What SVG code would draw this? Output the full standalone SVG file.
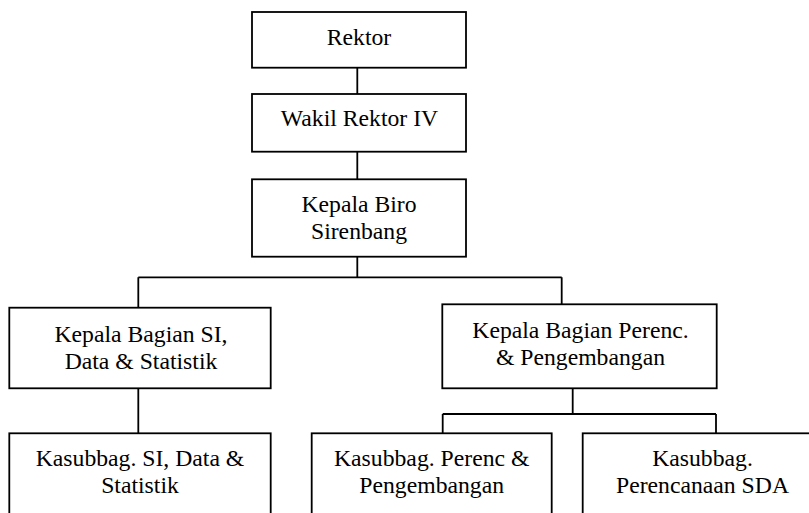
<svg xmlns="http://www.w3.org/2000/svg" width="809" height="513" viewBox="0 0 809 513">
<style>
.box{fill:#fff;stroke:#000;stroke-width:1.8}
.t{font-family:'Liberation Serif','Times New Roman',Times,Tinos,'Nimbus Roman','Nimbus Roman No9 L','DejaVu Serif','Noto Serif',FreeSerif,serif;font-size:23.7px;fill:#000;text-anchor:middle}
.c{stroke:#000;stroke-width:1.8;fill:none}
</style>
<rect width="809" height="513" fill="#fff"/>
<g id="connectors">
<path class="c" d="M357.3,67.7V94M357.3,151.7V179.3M357.3,256.7V277.3M138.3,277.3H561.7M138.3,277.3V307.7M561.7,277.3V304.3M138.3,388.3V433.3M572.7,388.3V414M442.7,414H716M442.7,414V433.3M716,414V433.3"/>
</g>
<g id="rektor"><rect class="box" x="252" y="12" width="214" height="55.7"/><text class="t" x="359" y="45">Rektor</text></g>
<g id="wakil"><rect class="box" x="252" y="94" width="214" height="57.7"/><text class="t" x="359.5" y="125.5">Wakil Rektor IV</text></g>
<g id="biro"><rect class="box" x="252" y="179.3" width="214" height="77.4"/><text class="t" x="359" y="212">Kepala Biro</text><text class="t" x="359" y="239">Sirenbang</text></g>
<g id="kabag-si"><rect class="box" x="9.3" y="307.7" width="261.4" height="80.6"/><text class="t" x="141" y="341.7">Kepala Bagian SI,</text><text class="t" x="141" y="369">Data &amp; Statistik</text></g>
<g id="kabag-perenc"><rect class="box" x="442.3" y="304.3" width="274.4" height="84"/><text class="t" x="580.5" y="338">Kepala Bagian Perenc.</text><text class="t" x="580.5" y="365">&amp; Pengembangan</text></g>
<g id="kasubbag-si"><rect class="box" x="9.3" y="433.3" width="261.4" height="100"/><text class="t" x="140" y="465.5">Kasubbag. SI, Data &amp;</text><text class="t" x="140" y="492.5">Statistik</text></g>
<g id="kasubbag-perenc"><rect class="box" x="311.7" y="433.3" width="240" height="100"/><text class="t" x="431.7" y="465.5">Kasubbag. Perenc &amp;</text><text class="t" x="431.7" y="492.5">Pengembangan</text></g>
<g id="kasubbag-sda"><rect class="box" x="582.7" y="433.3" width="250" height="100"/><text class="t" x="702.5" y="465.5">Kasubbag.</text><text class="t" x="702.5" y="492.5">Perencanaan SDA</text></g>
</svg>
